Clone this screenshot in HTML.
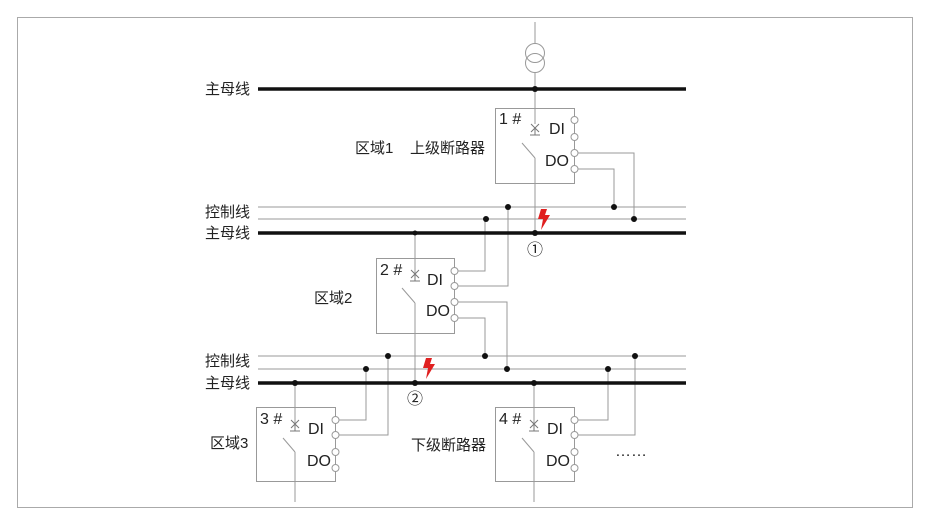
<!DOCTYPE html>
<html><head><meta charset="utf-8"><style>
html,body{margin:0;padding:0;background:#fff;}
svg text{font-family:"Liberation Sans","Noto Sans CJK SC",sans-serif;fill:#222;}
</style></head><body>
<svg width="930" height="527" viewBox="0 0 930 527" xmlns="http://www.w3.org/2000/svg">
<rect x="17.5" y="17.5" width="895" height="490" fill="none" stroke="#aaa" stroke-width="1"/>
<g stroke="#999" stroke-width="1" fill="none">
<line x1="535" y1="22" x2="535" y2="43"/>
<circle cx="535" cy="53" r="9.5"/><circle cx="535" cy="63" r="9.5"/>
<line x1="535" y1="73" x2="535" y2="124"/>
<line x1="535" y1="158" x2="535" y2="233"/>
<line x1="258" y1="207" x2="686" y2="207"/><line x1="258" y1="219" x2="686" y2="219"/>
<line x1="258" y1="356" x2="686" y2="356"/><line x1="258" y1="369" x2="686" y2="369"/>
<rect x="495.5" y="108.5" width="79" height="75"/>
<line x1="522" y1="143" x2="535" y2="158"/>
<polyline points="578,153 634,153 634,219"/>
<polyline points="578,169 614,169 614,207"/>
<rect x="376.5" y="258.5" width="78" height="75"/>
<line x1="415" y1="233" x2="415" y2="274"/>
<line x1="402" y1="288" x2="415" y2="303"/>
<line x1="415" y1="303" x2="415" y2="383"/>
<polyline points="458,271 485,271 485,219"/>
<polyline points="458,286 508,286 508,207"/>
<polyline points="458,302 507,302 507,369"/>
<polyline points="458,318 485,318 485,356"/>
<rect x="256.5" y="407.5" width="79" height="74"/>
<line x1="295" y1="383" x2="295" y2="424"/>
<line x1="283" y1="438" x2="295" y2="452"/>
<line x1="295" y1="452" x2="295" y2="502"/>
<polyline points="339,420 366,420 366,369"/>
<polyline points="339,435 388,435 388,356"/>
<rect x="495.5" y="407.5" width="79" height="74"/>
<line x1="534" y1="383" x2="534" y2="424"/>
<line x1="522" y1="438" x2="534" y2="452"/>
<line x1="534" y1="452" x2="534" y2="502"/>
<polyline points="578,420 608,420 608,369"/>
<polyline points="578,435 635,435 635,356"/>
<g stroke="#777">
<path d="M531,124 l8,8 M539,124 l-8,8 M530,135 h10 M535,128 v7"/>
<path d="M411,270 l8,8 M419,270 l-8,8 M410,281 h10 M415,274 v7"/>
<path d="M291,420 l8,8 M299,420 l-8,8 M290,431 h10 M295,424 v7"/>
<path d="M530,420 l8,8 M538,420 l-8,8 M529,431 h10 M534,424 v7"/>
</g>
</g>
<g stroke="#999" fill="#fff" stroke-width="1">
<circle cx="574.5" cy="120" r="3.5"/><circle cx="574.5" cy="137" r="3.5"/><circle cx="574.5" cy="153" r="3.5"/><circle cx="574.5" cy="169" r="3.5"/>
<circle cx="454.5" cy="271" r="3.5"/><circle cx="454.5" cy="286" r="3.5"/><circle cx="454.5" cy="302" r="3.5"/><circle cx="454.5" cy="318" r="3.5"/>
<circle cx="335.5" cy="420" r="3.5"/><circle cx="335.5" cy="435" r="3.5"/><circle cx="335.5" cy="452" r="3.5"/><circle cx="335.5" cy="468" r="3.5"/>
<circle cx="574.5" cy="420" r="3.5"/><circle cx="574.5" cy="435" r="3.5"/><circle cx="574.5" cy="452" r="3.5"/><circle cx="574.5" cy="468" r="3.5"/>
</g>
<g stroke="#111" stroke-width="3.5">
<line x1="258" y1="89" x2="686" y2="89"/>
<line x1="258" y1="233" x2="686" y2="233"/>
<line x1="258" y1="383" x2="686" y2="383"/>
</g>
<g fill="#111">
<circle cx="535" cy="89" r="3"/>
<circle cx="508" cy="207" r="3"/><circle cx="486" cy="219" r="3"/><circle cx="614" cy="207" r="3"/><circle cx="634" cy="219" r="3"/>
<circle cx="535" cy="233" r="3"/><circle cx="415" cy="233" r="2.5"/>
<circle cx="388" cy="356" r="3"/><circle cx="366" cy="369" r="3"/><circle cx="485" cy="356" r="3"/><circle cx="507" cy="369" r="3"/><circle cx="608" cy="369" r="3"/><circle cx="635" cy="356" r="3"/>
<circle cx="295" cy="383" r="3"/><circle cx="415" cy="383" r="3"/><circle cx="534" cy="383" r="3"/>
</g>
<g fill="#e02020">
<polygon points="541,209 547,209 545,215 550,215 541,230 543,219 538,219"/>
<polygon points="426,358 432,358 430,364 435,364 426,379 428,368 423,368"/>
</g>
<g font-size="15">
<text x="205" y="94">主母线</text>
<text x="205" y="217">控制线</text>
<text x="205" y="238">主母线</text>
<text x="205" y="366">控制线</text>
<text x="205" y="388">主母线</text>
<text x="355" y="153">区域1</text>
<text x="410" y="153">上级断路器</text>
<text x="314" y="303">区域2</text>
<text x="210" y="448">区域3</text>
<text x="411" y="450">下级断路器</text>
</g>
<g font-size="16">
<text x="499" y="124">1 #</text>
<text x="380" y="275">2 #</text>
<text x="260" y="424">3 #</text>
<text x="499" y="424">4 #</text>
<text x="549" y="134">DI</text><text x="545" y="166">DO</text>
<text x="427" y="285">DI</text><text x="426" y="316">DO</text>
<text x="308" y="434">DI</text><text x="307" y="466">DO</text>
<text x="547" y="434">DI</text><text x="546" y="466">DO</text>
<text x="615" y="456">……</text>
</g>
<g font-size="16" text-anchor="middle">
<text x="535" y="255">①</text>
<text x="415" y="404">②</text>
</g>
</svg>
</body></html>
